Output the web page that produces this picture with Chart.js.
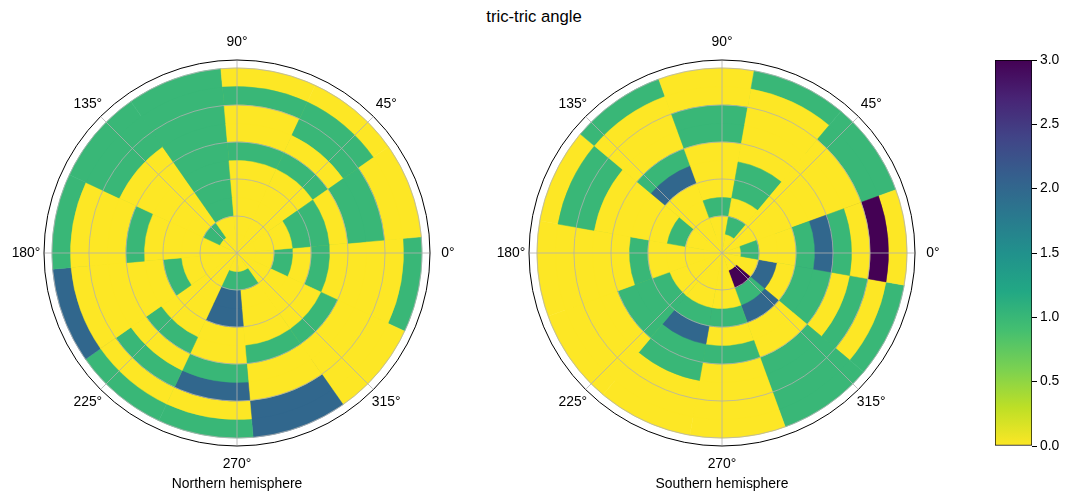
<!DOCTYPE html>
<html>
<head>
<meta charset="utf-8">
<script src="https://cdn.jsdelivr.net/npm/chart.js@4.4.1/dist/chart.umd.min.js"></script>
<style>
  html, body { margin: 0; padding: 0; background: #fff; width: 1069px; height: 501px; overflow: hidden; }
  body { position: relative; font-family: "Liberation Sans", Arial, sans-serif; }
  canvas { position: absolute; }
  .txt { position: absolute; color: #000; white-space: nowrap; transform: translate(-50%, -50%); }
</style>
</head>
<body>
<div class="txt" style="left:534px;top:17px;font-size:16.7px">tric-tric angle</div>
<canvas id="north" width="470" height="470" style="left:2px;top:18px"></canvas>
<canvas id="south" width="470" height="470" style="left:487px;top:18px"></canvas>
<canvas id="cbar" width="89" height="415" style="left:980px;top:45px"></canvas>
<div class="txt" style="left:237px;top:483px;font-size:13.9px">Northern hemisphere</div>
<div class="txt" style="left:722px;top:483px;font-size:13.9px">Southern hemisphere</div>
<script>
// radial bins (outer edge of each ring) and theta sectors of 30 degrees
const ringEdges = [1, 2, 3, 4, 5, 6, 7, 8, 9, 10];
const rMax = 10.43;
const ringTicks = [2, 4, 6, 8, 10];
const thetaTicks = [0, 45, 90, 135, 180, 225, 270, 315];
const cbarTicks = [0, 0.5, 1, 1.5, 2, 2.5, 3];
const northStart = 5;   // lower edge of sector 0 (deg, ccw from east)
const southStart = -10;

// one row per sector (ccw), values from inner ring to outer ring
const north = [
  [0, 0, 0, 1, 1, 0, 1, 1, 0, 0],
  [0, 0, 0, 0, 0, 1, 0, 1, 1, 0],
  [0, 0, 0, 0, 0, 1, 0, 0, 1, 0],
  [0, 0, 1, 1, 1, 1, 1, 1, 1, 1],
  [0, 1, 0, 0, 0, 0, 0, 1, 1, 1],
  [0, 0, 0, 0, 0, 1, 0, 0, 0, 1],
  [0, 0, 0, 1, 0, 0, 0, 0, 0, 2],
  [0, 0, 0, 0, 0, 1, 0, 1, 0, 1],
  [0, 1, 2, 2, 0, 0, 1, 2, 0, 1],
  [0, 1, 0, 0, 0, 1, 0, 0, 2, 2],
  [0, 0, 0, 0, 0, 1, 0, 0, 0, 0],
  [0, 0, 1, 0, 1, 0, 0, 0, 0, 1]
];
const south = [
  [0, 1, 0, 0, 1, 2, 1, 0, 3, 0],
  [0, 0, 0, 0, 0, 0, 0, 0, 1, 1],
  [0, 1, 0, 1, 1, 0, 0, 0, 0, 1],
  [0, 0, 1, 0, 0, 0, 1, 1, 0, 0],
  [0, 0, 0, 0, 2, 1, 0, 0, 0, 1],
  [0, 0, 1, 0, 0, 0, 0, 1, 1, 0],
  [0, 0, 0, 0, 1, 0, 0, 0, 0, 0],
  [0, 0, 0, 1, 1, 1, 0, 0, 0, 0],
  [0, 0, 0, 1, 2, 1, 1, 0, 0, 0],
  [0, 0, 0, 1, 0, 1, 0, 0, 0, 0],
  [0, 3, 1, 2, 0, 0, 1, 1, 1, 1],
  [0, 0, 2, 0, 1, 1, 0, 1, 0, 1]
];

const viridis = ['#440154', '#482475', '#414487', '#355f8d', '#2a788e', '#21918c',
                 '#22a884', '#44bf70', '#7ad151', '#bddf26', '#fde725'];

Chart.defaults.font.family = '"Liberation Sans", Arial, sans-serif';
Chart.defaults.font.size = 13.9;
Chart.defaults.color = '#000';

function rgb(h) {
  return [1, 3, 5].map(i => parseInt(h.slice(i, i + 2), 16));
}

// reversed viridis, vmin 0 .. vmax 3
function cmap(v) {
  const t = Math.min(Math.max(1 - v / 3, 0), 1) * (viridis.length - 1);
  const i = Math.min(Math.floor(t), viridis.length - 2);
  const f = t - i;
  const a = rgb(viridis[i]), b = rgb(viridis[i + 1]);
  return 'rgb(' + a.map((x, k) => Math.round(x + (b[k] - x) * f)).join(',') + ')';
}

// theta grid lines and degree labels
const thetaAxis = {
  id: 'thetaAxis',
  afterDraw(chart) {
    const s = chart.scales.r;
    const c = chart.ctx;
    const R = s.getDistanceFromCenterForValue(rMax);
    c.save();
    c.strokeStyle = '#b0b0b0';
    c.lineWidth = 0.8;
    c.fillStyle = '#000';
    c.font = '13.9px "Liberation Sans", Arial, sans-serif';
    c.textAlign = 'center';
    c.textBaseline = 'middle';
    thetaTicks.forEach(d => {
      const a = -d * Math.PI / 180;
      c.beginPath();
      c.moveTo(s.xCenter, s.yCenter);
      c.lineTo(s.xCenter + Math.cos(a) * (R - 1), s.yCenter + Math.sin(a) * (R - 1));
      c.stroke();
      c.fillText(d + '°', s.xCenter + Math.cos(a) * (R + 18), s.yCenter + Math.sin(a) * (R + 18));
    });
    c.restore();
  }
};

function polarChart(id, grid, start) {
  // slices go clockwise, starting at the top edge of the last sector
  const order = grid.map((_, k) => grid.length - 1 - k);
  const datasets = ringEdges.map((edge, i) => {
    const colors = order.map(j => cmap(grid[j][i]));
    return {
      data: order.map(() => edge),
      backgroundColor: colors,
      borderColor: colors,
      borderWidth: 0.5
    };
  });
  return new Chart(document.getElementById(id), {
    type: 'polarArea',
    data: { labels: order.map(j => 'sector ' + j), datasets: datasets },
    options: {
      responsive: false,
      animation: false,
      events: [],
      layout: { padding: 42 },
      plugins: { legend: { display: false }, tooltip: { enabled: false } },
      scales: {
        r: {
          min: 0,
          max: rMax,
          startAngle: ((90 - start - 360) % 360 + 360) % 360,
          afterBuildTicks: s => { s.ticks = [0, ...ringTicks, rMax].map(v => ({ value: v })); },
          ticks: { display: false },
          grid: {
            circular: true,
            z: 1,
            color: c => (c.tick && c.tick.value > 10 ? '#000' : '#b0b0b0'),
            lineWidth: c => (c.tick && c.tick.value > 10 ? 1 : 0.8)
          },
          angleLines: { display: false },
          pointLabels: { display: false }
        }
      }
    },
    plugins: [thetaAxis]
  });
}

polarChart('north', north, northStart);
polarChart('south', south, southStart);

// colorbar
new Chart(document.getElementById('cbar'), {
  type: 'bar',
  data: {
    labels: [''],
    datasets: [{
      data: [3],
      backgroundColor: ctx => {
        const a = ctx.chart.chartArea;
        if (!a) return viridis[viridis.length - 1];
        const g = ctx.chart.ctx.createLinearGradient(0, a.bottom, 0, a.top);
        viridis.forEach((col, i) => g.addColorStop(i / (viridis.length - 1), viridis[viridis.length - 1 - i]));
        return g;
      },
      borderColor: '#000',
      borderWidth: 1,
      borderSkipped: false,
      barPercentage: 1,
      categoryPercentage: 1
    }]
  },
  options: {
    responsive: false,
    animation: false,
    events: [],
    layout: { padding: { left: 15, top: 15, bottom: 14, right: 0 } },
    plugins: { legend: { display: false }, tooltip: { enabled: false } },
    scales: {
      x: { display: false },
      y: {
        position: 'right',
        min: 0,
        max: 3,
        afterBuildTicks: s => { s.ticks = cbarTicks.map(v => ({ value: v })); },
        afterFit: s => { s.width = 37; },
        ticks: { callback: v => v.toFixed(1), padding: 3 },
        grid: { drawOnChartArea: false, tickLength: 5, color: '#000' },
        border: { display: false }
      }
    }
  }
});
</script>
</body>
</html>
